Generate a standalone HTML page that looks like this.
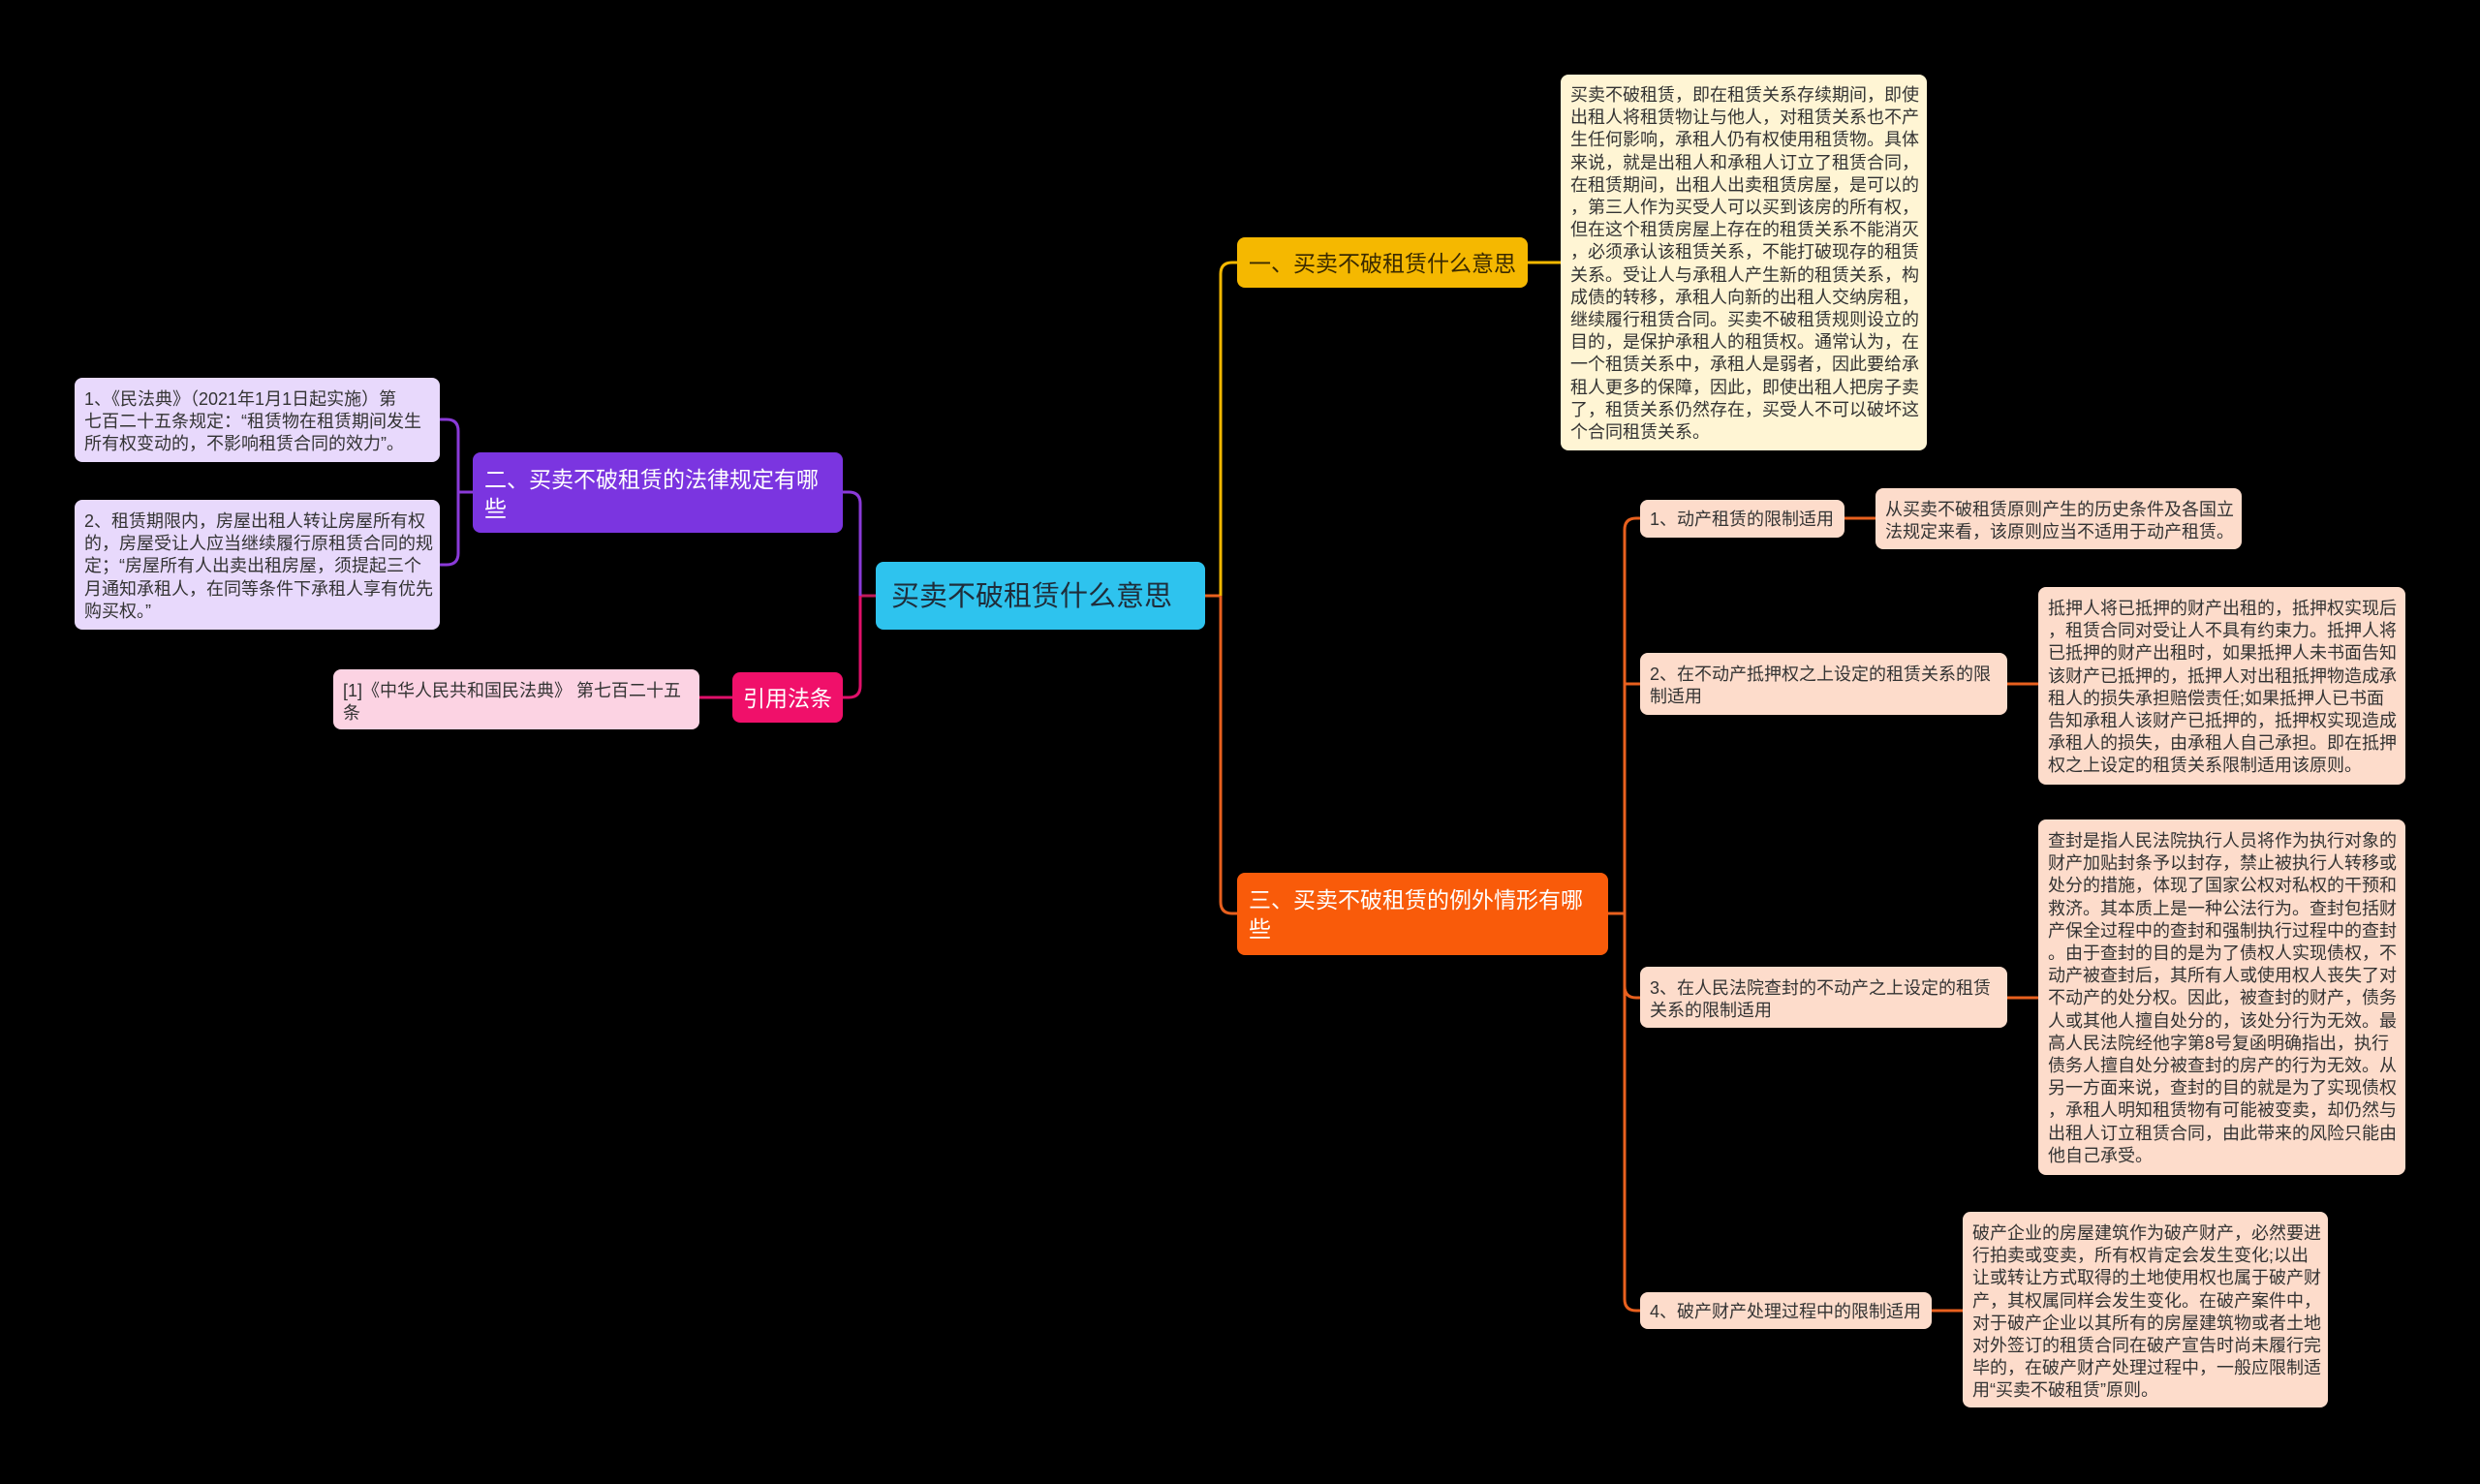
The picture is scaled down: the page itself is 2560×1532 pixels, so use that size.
<!DOCTYPE html>
<html><head><meta charset="utf-8"><style>
html,body{margin:0;padding:0;background:#000;}
body{width:2560px;height:1532px;position:relative;overflow:hidden;font-family:"Liberation Sans","Noto Sans CJK SC",sans-serif;}
.n{position:absolute;box-sizing:border-box;border-radius:8px;}
.d{font-size:18px;line-height:23.2px;color:#333;padding:11px 10px 8px;white-space:nowrap;}
</style></head><body>
<svg width="2560" height="1532" style="position:absolute;left:0;top:0">
<g fill="none" stroke-width="3">
<path d="M1244 615 H1260" stroke="#e8601e"/>
<path d="M1260 615 V283 Q1260 271 1272 271 H1277" stroke="#f5b800"/>
<path d="M1577 271 H1611" stroke="#f5b800"/>
<path d="M1260 615 V931 Q1260 943 1272 943 H1277" stroke="#e8601e"/>
<path d="M1660 943 H1677" stroke="#e8601e"/>
<path d="M1677 943 V547 Q1677 535 1689 535 H1693" stroke="#e8601e"/>
<path d="M1677 706 Q1677 706 1689 706 H1693" stroke="#e8601e"/>
<path d="M1677 943 V1018 Q1677 1030 1689 1030 H1693" stroke="#e8601e"/>
<path d="M1677 943 V1341 Q1677 1353 1689 1353 H1693" stroke="#e8601e"/>
<path d="M1904 535 H1936" stroke="#e8601e"/>
<path d="M2072 706 H2104" stroke="#e8601e"/>
<path d="M2072 1030 H2104" stroke="#e8601e"/>
<path d="M1994 1353 H2026" stroke="#e8601e"/>
<path d="M904 615 H888" stroke="#c01a5a"/>
<path d="M888 615 V520 Q888 508 876 508 H870" stroke="#8a3ad8"/>
<path d="M888 615 V708 Q888 720 876 720 H870" stroke="#e0106a"/>
<path d="M488 508 H473" stroke="#8a3ad8"/>
<path d="M473 508 V445 Q473 433 461 433 H454" stroke="#8a3ad8"/>
<path d="M473 508 V571 Q473 583 461 583 H454" stroke="#8a3ad8"/>
<path d="M756 720 H722" stroke="#e0106a"/>
</g></svg>

<div class="n" style="left:904px;top:580px;width:340px;height:70px;background:#2ec3ee;color:#1f2d3a;font-size:29px;line-height:72px;padding-left:16px;">买卖不破租赁什么意思</div>

<div class="n" style="left:1277px;top:245px;width:300px;height:52px;background:#f5b800;color:#3a2a00;font-size:23px;line-height:54px;padding-left:12px;">一、买卖不破租赁什么意思</div>
<div class="n d" style="left:1611px;top:77px;width:378px;height:388px;background:#fff5d4;padding-top:10px;">买卖不破租赁，即在租赁关系存续期间，即使<br>出租人将租赁物让与他人，对租赁关系也不产<br>生任何影响，承租人仍有权使用租赁物。具体<br>来说，就是出租人和承租人订立了租赁合同，<br>在租赁期间，出租人出卖租赁房屋，是可以的<br>，第三人作为买受人可以买到该房的所有权，<br>但在这个租赁房屋上存在的租赁关系不能消灭<br>，必须承认该租赁关系，不能打破现存的租赁<br>关系。受让人与承租人产生新的租赁关系，构<br>成债的转移，承租人向新的出租人交纳房租，<br>继续履行租赁合同。买卖不破租赁规则设立的<br>目的，是保护承租人的租赁权。通常认为，在<br>一个租赁关系中，承租人是弱者，因此要给承<br>租人更多的保障，因此，即使出租人把房子卖<br>了，租赁关系仍然存在，买受人不可以破坏这<br>个合同租赁关系。</div>

<div class="n" style="left:1277px;top:901px;width:383px;height:85px;background:#f95b0a;color:#fff;font-size:23px;line-height:30px;padding:13px 12px 10px;">三、买卖不破租赁的例外情形有哪<br>些</div>

<div class="n d" style="left:1693px;top:516px;width:211px;height:39px;background:#fddccb;line-height:23px;padding-top:9px;">1、动产租赁的限制适用</div>
<div class="n d" style="left:1936px;top:504px;width:378px;height:63px;background:#fddccb;">从买卖不破租赁原则产生的历史条件及各国立<br>法规定来看，该原则应当不适用于动产租赁。</div>

<div class="n d" style="left:1693px;top:674px;width:379px;height:64px;background:#fddccb;">2、在不动产抵押权之上设定的租赁关系的限<br>制适用</div>
<div class="n d" style="left:2104px;top:606px;width:379px;height:204px;background:#fddccb;">抵押人将已抵押的财产出租的，抵押权实现后<br>，租赁合同对受让人不具有约束力。抵押人将<br>已抵押的财产出租时，如果抵押人未书面告知<br>该财产已抵押的，抵押人对出租抵押物造成承<br>租人的损失承担赔偿责任;如果抵押人已书面<br>告知承租人该财产已抵押的，抵押权实现造成<br>承租人的损失，由承租人自己承担。即在抵押<br>权之上设定的租赁关系限制适用该原则。</div>

<div class="n d" style="left:1693px;top:998px;width:379px;height:63px;background:#fddccb;">3、在人民法院查封的不动产之上设定的租赁<br>关系的限制适用</div>
<div class="n d" style="left:2104px;top:846px;width:379px;height:367px;background:#fddccb;">查封是指人民法院执行人员将作为执行对象的<br>财产加贴封条予以封存，禁止被执行人转移或<br>处分的措施，体现了国家公权对私权的干预和<br>救济。其本质上是一种公法行为。查封包括财<br>产保全过程中的查封和强制执行过程中的查封<br>。由于查封的目的是为了债权人实现债权，不<br>动产被查封后，其所有人或使用权人丧失了对<br>不动产的处分权。因此，被查封的财产，债务<br>人或其他人擅自处分的，该处分行为无效。最<br>高人民法院经他字第8号复函明确指出，执行<br>债务人擅自处分被查封的房产的行为无效。从<br>另一方面来说，查封的目的就是为了实现债权<br>，承租人明知租赁物有可能被变卖，却仍然与<br>出租人订立租赁合同，由此带来的风险只能由<br>他自己承受。</div>

<div class="n d" style="left:1693px;top:1334px;width:301px;height:38px;background:#fddccb;line-height:22px;padding-top:9px;">4、破产财产处理过程中的限制适用</div>
<div class="n d" style="left:2026px;top:1251px;width:377px;height:202px;background:#fddccb;">破产企业的房屋建筑作为破产财产，必然要进<br>行拍卖或变卖，所有权肯定会发生变化;以出<br>让或转让方式取得的土地使用权也属于破产财<br>产，其权属同样会发生变化。在破产案件中，<br>对于破产企业以其所有的房屋建筑物或者土地<br>对外签订的租赁合同在破产宣告时尚未履行完<br>毕的，在破产财产处理过程中，一般应限制适<br>用“买卖不破租赁”原则。</div>

<div class="n" style="left:488px;top:467px;width:382px;height:83px;background:#7b35e0;color:#fff;font-size:23px;line-height:30px;padding:13px 12px 10px;">二、买卖不破租赁的法律规定有哪<br>些</div>
<div class="n d" style="left:77px;top:390px;width:377px;height:87px;background:#e8d9fc;">1、《民法典》（2021年1月1日起实施）第<br>七百二十五条规定：“租赁物在租赁期间发生<br>所有权变动的，不影响租赁合同的效力”。</div>
<div class="n d" style="left:77px;top:516px;width:377px;height:134px;background:#e8d9fc;">2、租赁期限内，房屋出租人转让房屋所有权<br>的，房屋受让人应当继续履行原租赁合同的规<br>定；“房屋所有人出卖出租房屋，须提起三个<br>月通知承租人，在同等条件下承租人享有优先<br>购买权。”</div>

<div class="n" style="left:756px;top:694px;width:114px;height:52px;background:#f0106a;color:#fff;font-size:23px;line-height:54px;text-align:center;">引用法条</div>
<div class="n d" style="left:344px;top:691px;width:378px;height:62px;background:#fcd3e3;">[1]《中华人民共和国民法典》 第七百二十五<br>条</div>
</body></html>
